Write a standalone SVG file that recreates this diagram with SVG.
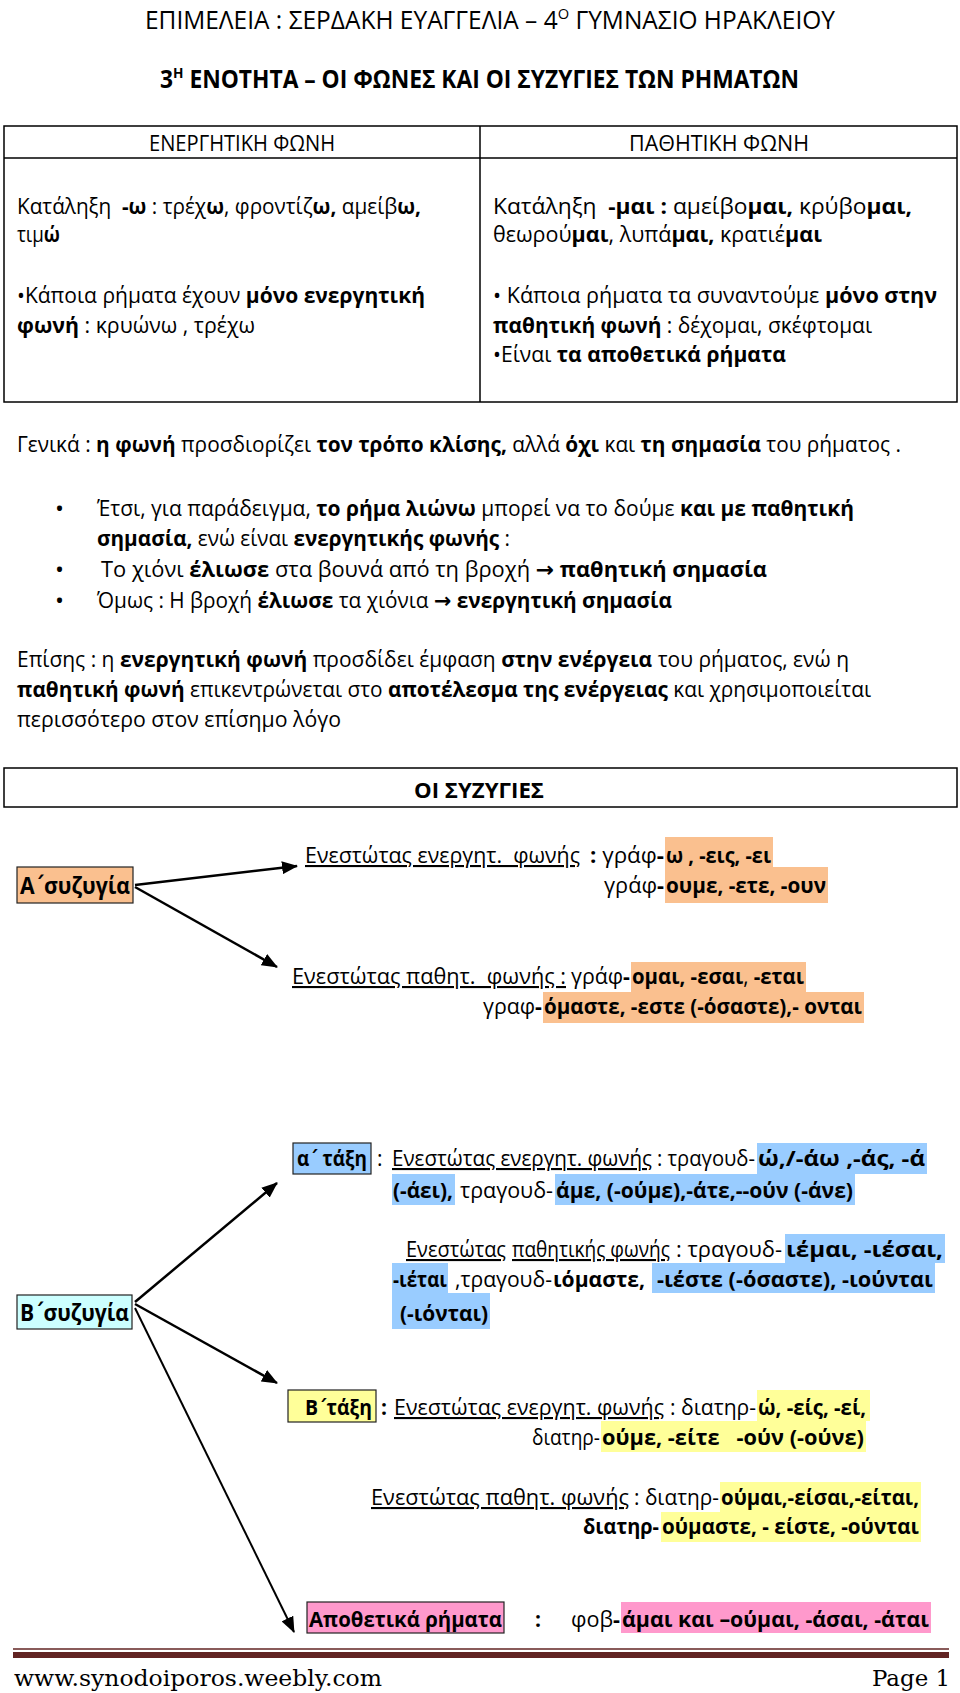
<svg xmlns="http://www.w3.org/2000/svg" width="960" height="1693" viewBox="0 0 960 1693">
<defs>
<style>
text{font-family:"Open Sans","Noto Sans","DejaVu Sans",sans-serif;font-size:21px;fill:#000}
.b{font-weight:700}
.u{text-decoration:underline}
.h{font-size:25px}
.lbl{font-size:24px;font-weight:700}
.tn{font-family:"DejaVu Sans",sans-serif}
.bul{font-size:24px}
.ft{font-family:"DejaVu Serif","Liberation Serif",serif;font-size:23px;fill:#000}
.ln{stroke:#000;stroke-width:1.5;fill:none}
.box{stroke:#222;stroke-width:1.2}
.arr{stroke:#000;stroke-width:2.5;fill:none;marker-end:url(#ah)}
.or{fill:#fac08f}
.bl{fill:#99ccff}
.ye{fill:#ffff99}
.pk{fill:#ff99cc}
.cy{fill:#ccffff}
</style>
<marker id="ah" markerUnits="userSpaceOnUse" viewBox="0 0 16 13" refX="15" refY="6.5" markerWidth="16" markerHeight="13" orient="auto"><path d="M0,0L16,6.5L0,13z" fill="#000"/></marker>
</defs>
<rect width="960" height="1693" fill="#fff"/>

<g id="header">
<text x="145" y="29" class="h" textLength="690" lengthAdjust="spacingAndGlyphs">ΕΠΙΜΕΛΕΙΑ : ΣΕΡΔΑΚΗ ΕΥΑΓΓΕΛΙΑ – 4<tspan dy="-10" font-size="15">Ο</tspan><tspan dy="10"> ΓΥΜΝΑΣΙΟ ΗΡΑΚΛΕΙΟΥ</tspan></text>
<text x="160" y="88" class="h b" textLength="639" lengthAdjust="spacingAndGlyphs">3<tspan dy="-10" font-size="15">Η</tspan><tspan dy="10"> ΕΝΟΤΗΤΑ – ΟΙ ΦΩΝΕΣ ΚΑΙ ΟΙ ΣΥΖΥΓΙΕΣ ΤΩΝ ΡΗΜΑΤΩΝ</tspan></text>
</g>

<g id="table">
<rect x="4" y="126" width="953" height="276" class="ln"/>
<line x1="4" y1="158" x2="957" y2="158" class="ln"/>
<line x1="480" y1="126" x2="480" y2="402" class="ln"/>
</g>

<g id="cell-active">
<text x="149" y="151" textLength="186" lengthAdjust="spacingAndGlyphs">ΕΝΕΡΓΗΤΙΚΗ ΦΩΝΗ</text>
<text x="17" y="214" textLength="404" lengthAdjust="spacingAndGlyphs">Κατάληξη&#160; <tspan class="b">-ω</tspan> : τρέχ<tspan class="b">ω</tspan>, φροντίζ<tspan class="b">ω,</tspan> αμείβ<tspan class="b">ω,</tspan></text>
<text x="17" y="242" textLength="43" lengthAdjust="spacingAndGlyphs">τιμ<tspan class="b">ώ</tspan></text>
<text x="17" y="303" textLength="408" lengthAdjust="spacingAndGlyphs">•Κάποια ρήματα έχουν <tspan class="b">μόνο ενεργητική</tspan></text>
<text x="17" y="333" textLength="238" lengthAdjust="spacingAndGlyphs"><tspan class="b">φωνή</tspan> : κρυώνω , τρέχω</text>
</g>

<g id="cell-passive">
<text x="629" y="151" textLength="180" lengthAdjust="spacingAndGlyphs">ΠΑΘΗΤΙΚΗ ΦΩΝΗ</text>
<text x="493" y="214" textLength="419" lengthAdjust="spacingAndGlyphs">Κατάληξη&#160; <tspan class="b">-μαι :</tspan> αμείβο<tspan class="b">μαι,</tspan> κρύβο<tspan class="b">μαι,</tspan></text>
<text x="493" y="242" textLength="329" lengthAdjust="spacingAndGlyphs">θεωρού<tspan class="b">μαι</tspan>, λυπά<tspan class="b">μαι,</tspan> κρατιέ<tspan class="b">μαι</tspan></text>
<text x="493" y="303" textLength="444" lengthAdjust="spacingAndGlyphs">• Κάποια ρήματα τα συναντούμε <tspan class="b">μόνο στην</tspan></text>
<text x="493" y="333" textLength="379" lengthAdjust="spacingAndGlyphs"><tspan class="b">παθητική φωνή</tspan> : δέχομαι, σκέφτομαι</text>
<text x="493" y="362" textLength="293" lengthAdjust="spacingAndGlyphs">•Είναι <tspan class="b">τα αποθετικά ρήματα</tspan></text>
</g>

<g id="notes">
<text x="17" y="452" textLength="884" lengthAdjust="spacingAndGlyphs">Γενικά : <tspan class="b">η φωνή</tspan> προσδιορίζει <tspan class="b">τον τρόπο κλίσης,</tspan> αλλά <tspan class="b">όχι</tspan> και <tspan class="b">τη σημασία</tspan> του ρήματος .</text>
<text x="55" y="517" class="bul">•</text>
<text x="97" y="516" textLength="757" lengthAdjust="spacingAndGlyphs">Έτσι, για παράδειγμα, <tspan class="b">το ρήμα λιώνω</tspan> μπορεί να το δούμε <tspan class="b">και με παθητική</tspan></text>
<text x="97" y="546" textLength="413" lengthAdjust="spacingAndGlyphs"><tspan class="b">σημασία,</tspan> ενώ είναι <tspan class="b">ενεργητικής φωνής</tspan> :</text>
<text x="55" y="578" class="bul">•</text>
<text x="101" y="577" textLength="666" lengthAdjust="spacingAndGlyphs">Το χιόνι <tspan class="b">έλιωσε</tspan> στα βουνά από τη βροχή <tspan class="b">→ παθητική σημασία</tspan></text>
<text x="55" y="609" class="bul">•</text>
<text x="97" y="608" textLength="575" lengthAdjust="spacingAndGlyphs">Όμως : Η βροχή <tspan class="b">έλιωσε</tspan> τα χιόνια <tspan class="b">→ ενεργητική σημασία</tspan></text>
<text x="17" y="667" textLength="832" lengthAdjust="spacingAndGlyphs">Επίσης : η <tspan class="b">ενεργητική φωνή</tspan> προσδίδει έμφαση <tspan class="b">στην ενέργεια</tspan> του ρήματος, ενώ η</text>
<text x="17" y="697" textLength="854" lengthAdjust="spacingAndGlyphs"><tspan class="b">παθητική φωνή</tspan> επικεντρώνεται στο <tspan class="b">αποτέλεσμα της ενέργειας</tspan> και χρησιμοποιείται</text>
<text x="17" y="727" textLength="324" lengthAdjust="spacingAndGlyphs">περισσότερο στον επίσημο λόγο</text>
</g>

<g id="syzygies-title">
<rect x="4" y="768" width="953" height="39" class="ln"/>
<text x="414" y="798" class="b" textLength="130" lengthAdjust="spacingAndGlyphs">ΟΙ ΣΥΖΥΓΙΕΣ</text>
</g>

<g id="connectors">
<line x1="135" y1="885" x2="297" y2="866" class="arr"/>
<line x1="135" y1="887" x2="277" y2="967" class="arr"/>
<line x1="135" y1="1302" x2="277" y2="1183" class="arr"/>
<line x1="135" y1="1304" x2="277" y2="1383" class="arr"/>
<line x1="135" y1="1308" x2="294" y2="1632" class="arr" style="stroke-width:2"/>
</g>

<g id="a-conj">
<rect x="17" y="867" width="116" height="36" class="or box"/>
<text x="20" y="894" class="lbl" textLength="110" lengthAdjust="spacingAndGlyphs">Α<tspan class="tn">΄</tspan>συζυγία</text>
</g>

<g id="a-active">
<text x="305" y="863" class="u" textLength="275" lengthAdjust="spacingAndGlyphs">Ενεστώτας ενεργητ.&#160; φωνής</text>
<text x="590" y="863" textLength="74" lengthAdjust="spacingAndGlyphs"><tspan class="b">:</tspan> γράφ<tspan class="b">-</tspan></text>
<rect x="665" y="837" width="108" height="30" class="or"/>
<text x="666" y="863" class="b" textLength="105" lengthAdjust="spacingAndGlyphs">ω , -εις, -ει</text>
<text x="604" y="893" textLength="60" lengthAdjust="spacingAndGlyphs">γράφ<tspan class="b">-</tspan></text>
<rect x="665" y="867" width="163" height="36" class="or"/>
<text x="666" y="893" class="b" textLength="160" lengthAdjust="spacingAndGlyphs">ουμε, -ετε, -ουν</text>
</g>

<g id="a-passive">
<text x="292" y="984" class="u" textLength="274" lengthAdjust="spacingAndGlyphs">Ενεστώτας παθητ.&#160; φωνής :</text>
<text x="571" y="984" textLength="59" lengthAdjust="spacingAndGlyphs">γράφ<tspan class="b">-</tspan></text>
<rect x="631" y="962" width="175" height="30" class="or"/>
<text x="632" y="984" textLength="172" lengthAdjust="spacingAndGlyphs"><tspan class="b">ομαι, -εσαι</tspan>, <tspan class="b">-εται</tspan></text>
<text x="483" y="1014" textLength="59" lengthAdjust="spacingAndGlyphs">γραφ<tspan class="b">-</tspan></text>
<rect x="543" y="992" width="321" height="31" class="or"/>
<text x="544" y="1014" class="b" textLength="318" lengthAdjust="spacingAndGlyphs">όμαστε, -εστε (-όσαστε),- ονται</text>
</g>

<g id="b-conj">
<rect x="17" y="1295" width="115" height="34" class="cy box"/>
<text x="20" y="1321" class="lbl" textLength="109" lengthAdjust="spacingAndGlyphs">Β<tspan class="tn">΄</tspan>συζυγία</text>
</g>

<g id="b-class-a">
<rect x="293" y="1143" width="78" height="31" class="bl box"/>
<text x="297" y="1166" class="b" textLength="70" lengthAdjust="spacingAndGlyphs">α<tspan class="tn">΄</tspan> τάξη</text>
<text x="377" y="1166">:</text>
<text x="392" y="1166" class="u" textLength="260" lengthAdjust="spacingAndGlyphs">Ενεστώτας ενεργητ. φωνής</text>
<text x="657" y="1166" textLength="98" lengthAdjust="spacingAndGlyphs">: τραγουδ-</text>
<rect x="757" y="1143" width="170" height="31" class="bl"/>
<text x="758" y="1166" class="b" textLength="167" lengthAdjust="spacingAndGlyphs">ώ,/-άω ,-άς, -ά</text>
<rect x="392" y="1174" width="63" height="31" class="bl"/>
<text x="393" y="1198" class="b" textLength="60" lengthAdjust="spacingAndGlyphs">(-άει),</text>
<text x="460" y="1198" textLength="93" lengthAdjust="spacingAndGlyphs">τραγουδ-</text>
<rect x="555" y="1174" width="300" height="31" class="bl"/>
<text x="556" y="1198" class="b" textLength="297" lengthAdjust="spacingAndGlyphs">άμε, (-ούμε),-άτε,--ούν (-άνε)</text>
<text x="406" y="1257" class="u" textLength="100" lengthAdjust="spacingAndGlyphs">Ενεστώτας</text>
<text x="512" y="1257" class="u" textLength="158" lengthAdjust="spacingAndGlyphs">παθητικής φωνής</text>
<text x="676" y="1257" textLength="106" lengthAdjust="spacingAndGlyphs">: τραγουδ-</text>
<rect x="785" y="1234" width="160" height="29" class="bl"/>
<text x="786" y="1257" class="b" textLength="157" lengthAdjust="spacingAndGlyphs">ιέμαι, -ιέσαι,</text>
<rect x="392" y="1263" width="56" height="30" class="bl"/>
<text x="393" y="1287" class="b" textLength="54" lengthAdjust="spacingAndGlyphs">-ιέται</text>
<text x="455" y="1287" textLength="97" lengthAdjust="spacingAndGlyphs">,τραγουδ-</text>
<text x="553" y="1287" class="b" textLength="92" lengthAdjust="spacingAndGlyphs">ιόμαστε,</text>
<rect x="652" y="1263" width="283" height="30" class="bl"/>
<text x="657" y="1287" class="b" textLength="276" lengthAdjust="spacingAndGlyphs">-ιέστε (-όσαστε), -ιούνται</text>
<rect x="392" y="1293" width="98" height="36" class="bl"/>
<text x="400" y="1321" class="b" textLength="88" lengthAdjust="spacingAndGlyphs">(-ιόνται)</text>
</g>

<g id="b-class-b">
<rect x="288" y="1390" width="88" height="32" class="ye box"/>
<text x="305" y="1415" class="b" textLength="67" lengthAdjust="spacingAndGlyphs">Β<tspan class="tn">΄</tspan>τάξη</text>
<text x="381" y="1415" class="b">:</text>
<text x="394" y="1415" class="u" textLength="270" lengthAdjust="spacingAndGlyphs">Ενεστώτας ενεργητ. φωνής</text>
<text x="670" y="1415" textLength="86" lengthAdjust="spacingAndGlyphs">: διατηρ-</text>
<rect x="757" y="1390" width="113" height="31" class="ye"/>
<text x="758" y="1415" class="b" textLength="108" lengthAdjust="spacingAndGlyphs">ώ, -είς, -εί,</text>
<text x="532" y="1445" textLength="68" lengthAdjust="spacingAndGlyphs">διατηρ-</text>
<rect x="601" y="1421" width="265" height="31" class="ye"/>
<text x="602" y="1445" class="b" textLength="262" lengthAdjust="spacingAndGlyphs">ούμε, -είτε&#160;&#160; -ούν (-ούνε)</text>
<text x="371" y="1505" class="u" textLength="258" lengthAdjust="spacingAndGlyphs">Ενεστώτας παθητ. φωνής</text>
<text x="634" y="1505" textLength="85" lengthAdjust="spacingAndGlyphs">: διατηρ-</text>
<rect x="720" y="1482" width="201" height="30" class="ye"/>
<text x="721" y="1505" class="b" textLength="198" lengthAdjust="spacingAndGlyphs">ούμαι,-είσαι,-είται,</text>
<text x="583" y="1534" class="b" textLength="76" lengthAdjust="spacingAndGlyphs">διατηρ-</text>
<rect x="661" y="1512" width="260" height="30" class="ye"/>
<text x="662" y="1534" class="b" textLength="257" lengthAdjust="spacingAndGlyphs">ούμαστε, - είστε, -ούνται</text>
</g>

<g id="b-deponent">
<rect x="307" y="1602" width="197" height="31" class="pk box"/>
<text x="309" y="1627" class="b" textLength="193" lengthAdjust="spacingAndGlyphs">Αποθετικά ρήματα</text>
<text x="535" y="1627" class="b">:</text>
<text x="571" y="1627" textLength="49" lengthAdjust="spacingAndGlyphs">φοβ<tspan class="b">-</tspan></text>
<rect x="621" y="1602" width="310" height="31" class="pk"/>
<text x="622" y="1627" class="b" textLength="307" lengthAdjust="spacingAndGlyphs">άμαι και –ούμαι, -άσαι, -άται</text>
</g>

<g id="footer">
<line x1="13" y1="1649" x2="949" y2="1649" stroke="#622423" stroke-width="1.5"/>
<rect x="13" y="1652" width="936" height="6" fill="#622423"/>
<text class="ft" x="14" y="1686" textLength="368" lengthAdjust="spacingAndGlyphs">www.synodoiporos.weebly.com</text>
<text class="ft" x="872" y="1686" textLength="78" lengthAdjust="spacingAndGlyphs">Page 1</text>
</g>
</svg>
